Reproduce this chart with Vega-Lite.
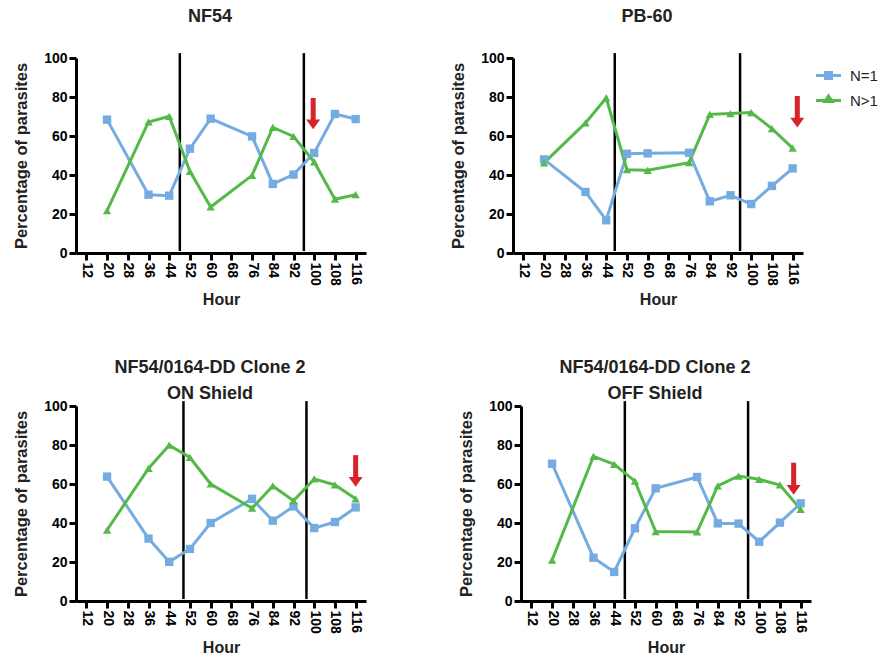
{
  "$schema": "https://vega.github.io/schema/vega-lite/v6.json",
  "padding": {"left": 13, "top": 8, "right": 5, "bottom": 5},
  "background": "white",
  "datasets": {
    "counts": [
      {"panel": "NF54", "hour": 20, "series": "N=1", "pct": 68.4},
      {"panel": "NF54", "hour": 36, "series": "N=1", "pct": 29.9},
      {"panel": "NF54", "hour": 44, "series": "N=1", "pct": 29.4},
      {"panel": "NF54", "hour": 52, "series": "N=1", "pct": 53.5},
      {"panel": "NF54", "hour": 60, "series": "N=1", "pct": 68.9},
      {"panel": "NF54", "hour": 76, "series": "N=1", "pct": 59.8},
      {"panel": "NF54", "hour": 84, "series": "N=1", "pct": 35.4},
      {"panel": "NF54", "hour": 92, "series": "N=1", "pct": 40.2},
      {"panel": "NF54", "hour": 100, "series": "N=1", "pct": 51.3},
      {"panel": "NF54", "hour": 108, "series": "N=1", "pct": 71.3},
      {"panel": "NF54", "hour": 116, "series": "N=1", "pct": 68.7},
      {"panel": "NF54", "hour": 20, "series": "N>1", "pct": 21.7},
      {"panel": "NF54", "hour": 36, "series": "N>1", "pct": 67.2},
      {"panel": "NF54", "hour": 44, "series": "N>1", "pct": 70.1},
      {"panel": "NF54", "hour": 52, "series": "N>1", "pct": 41.9},
      {"panel": "NF54", "hour": 60, "series": "N>1", "pct": 23.6},
      {"panel": "NF54", "hour": 76, "series": "N>1", "pct": 39.8},
      {"panel": "NF54", "hour": 84, "series": "N>1", "pct": 64.4},
      {"panel": "NF54", "hour": 92, "series": "N>1", "pct": 59.8},
      {"panel": "NF54", "hour": 100, "series": "N>1", "pct": 46.7},
      {"panel": "NF54", "hour": 108, "series": "N>1", "pct": 27.6},
      {"panel": "NF54", "hour": 116, "series": "N>1", "pct": 29.9},

      {"panel": "PB-60", "hour": 20, "series": "N=1", "pct": 48.0},
      {"panel": "PB-60", "hour": 36, "series": "N=1", "pct": 31.3},
      {"panel": "PB-60", "hour": 44, "series": "N=1", "pct": 16.8},
      {"panel": "PB-60", "hour": 52, "series": "N=1", "pct": 50.9},
      {"panel": "PB-60", "hour": 60, "series": "N=1", "pct": 51.1},
      {"panel": "PB-60", "hour": 76, "series": "N=1", "pct": 51.4},
      {"panel": "PB-60", "hour": 84, "series": "N=1", "pct": 26.5},
      {"panel": "PB-60", "hour": 92, "series": "N=1", "pct": 29.6},
      {"panel": "PB-60", "hour": 100, "series": "N=1", "pct": 25.1},
      {"panel": "PB-60", "hour": 108, "series": "N=1", "pct": 34.4},
      {"panel": "PB-60", "hour": 116, "series": "N=1", "pct": 43.4},
      {"panel": "PB-60", "hour": 20, "series": "N>1", "pct": 46.2},
      {"panel": "PB-60", "hour": 36, "series": "N>1", "pct": 66.7},
      {"panel": "PB-60", "hour": 44, "series": "N>1", "pct": 79.5},
      {"panel": "PB-60", "hour": 52, "series": "N>1", "pct": 42.7},
      {"panel": "PB-60", "hour": 60, "series": "N>1", "pct": 42.4},
      {"panel": "PB-60", "hour": 76, "series": "N>1", "pct": 46.3},
      {"panel": "PB-60", "hour": 84, "series": "N>1", "pct": 71.1},
      {"panel": "PB-60", "hour": 92, "series": "N>1", "pct": 71.5},
      {"panel": "PB-60", "hour": 100, "series": "N>1", "pct": 72.0},
      {"panel": "PB-60", "hour": 108, "series": "N>1", "pct": 63.8},
      {"panel": "PB-60", "hour": 116, "series": "N>1", "pct": 53.8},

      {"panel": "ON", "hour": 20, "series": "N=1", "pct": 63.8},
      {"panel": "ON", "hour": 36, "series": "N=1", "pct": 32.0},
      {"panel": "ON", "hour": 44, "series": "N=1", "pct": 20.1},
      {"panel": "ON", "hour": 52, "series": "N=1", "pct": 26.7},
      {"panel": "ON", "hour": 60, "series": "N=1", "pct": 40.0},
      {"panel": "ON", "hour": 76, "series": "N=1", "pct": 52.4},
      {"panel": "ON", "hour": 84, "series": "N=1", "pct": 41.2},
      {"panel": "ON", "hour": 92, "series": "N=1", "pct": 48.5},
      {"panel": "ON", "hour": 100, "series": "N=1", "pct": 37.4},
      {"panel": "ON", "hour": 108, "series": "N=1", "pct": 40.5},
      {"panel": "ON", "hour": 116, "series": "N=1", "pct": 48.0},
      {"panel": "ON", "hour": 20, "series": "N>1", "pct": 36.4},
      {"panel": "ON", "hour": 36, "series": "N>1", "pct": 68.0},
      {"panel": "ON", "hour": 44, "series": "N>1", "pct": 79.9},
      {"panel": "ON", "hour": 52, "series": "N>1", "pct": 73.6},
      {"panel": "ON", "hour": 60, "series": "N>1", "pct": 60.0},
      {"panel": "ON", "hour": 76, "series": "N>1", "pct": 47.6},
      {"panel": "ON", "hour": 84, "series": "N>1", "pct": 59.0},
      {"panel": "ON", "hour": 92, "series": "N>1", "pct": 51.4},
      {"panel": "ON", "hour": 100, "series": "N>1", "pct": 62.6},
      {"panel": "ON", "hour": 108, "series": "N>1", "pct": 59.5},
      {"panel": "ON", "hour": 116, "series": "N>1", "pct": 52.4},

      {"panel": "OFF", "hour": 20, "series": "N=1", "pct": 70.4},
      {"panel": "OFF", "hour": 36, "series": "N=1", "pct": 22.2},
      {"panel": "OFF", "hour": 44, "series": "N=1", "pct": 14.9},
      {"panel": "OFF", "hour": 52, "series": "N=1", "pct": 37.3},
      {"panel": "OFF", "hour": 60, "series": "N=1", "pct": 57.8},
      {"panel": "OFF", "hour": 76, "series": "N=1", "pct": 63.6},
      {"panel": "OFF", "hour": 84, "series": "N=1", "pct": 39.8},
      {"panel": "OFF", "hour": 92, "series": "N=1", "pct": 39.7},
      {"panel": "OFF", "hour": 100, "series": "N=1", "pct": 30.4},
      {"panel": "OFF", "hour": 108, "series": "N=1", "pct": 40.2},
      {"panel": "OFF", "hour": 116, "series": "N=1", "pct": 50.1},
      {"panel": "OFF", "hour": 20, "series": "N>1", "pct": 21.0},
      {"panel": "OFF", "hour": 36, "series": "N>1", "pct": 74.2},
      {"panel": "OFF", "hour": 44, "series": "N>1", "pct": 70.1},
      {"panel": "OFF", "hour": 52, "series": "N>1", "pct": 61.5},
      {"panel": "OFF", "hour": 60, "series": "N>1", "pct": 35.6},
      {"panel": "OFF", "hour": 76, "series": "N>1", "pct": 35.4},
      {"panel": "OFF", "hour": 84, "series": "N>1", "pct": 59.0},
      {"panel": "OFF", "hour": 92, "series": "N>1", "pct": 64.1},
      {"panel": "OFF", "hour": 100, "series": "N>1", "pct": 62.4},
      {"panel": "OFF", "hour": 108, "series": "N>1", "pct": 59.5},
      {"panel": "OFF", "hour": 116, "series": "N>1", "pct": 47.0}
    ],
    "dividers": [
      {"panel": "NF54", "hour": 48.1},
      {"panel": "NF54", "hour": 96.0},
      {"panel": "PB-60", "hour": 47.3},
      {"panel": "PB-60", "hour": 95.7},
      {"panel": "ON", "hour": 49.5},
      {"panel": "ON", "hour": 97.0},
      {"panel": "OFF", "hour": 48.1},
      {"panel": "OFF", "hour": 95.7}
    ],
    "arrows": [
      {"panel": "NF54", "hour": 99.6, "top": 79.5, "head": 66.0},
      {"panel": "PB-60", "hour": 117.8, "top": 80.5, "head": 66.9},
      {"panel": "ON", "hour": 116.0, "top": 74.8, "head": 61.1},
      {"panel": "OFF", "hour": 113.3, "top": 70.9, "head": 57.0}
    ]
  },
  "resolve": {"scale": {"color": "shared"}, "legend": {"color": "shared"}},
  "spacing": 51,
  "vconcat": [
    {
      "spacing": 84,
      "hconcat": [
        {
          "title": {"text": "NF54", "offset": 25},
          "width": 290,
          "height": 195,
          "layer": [
            {
              "data": {"name": "dividers"},
              "transform": [{"filter": "datum.panel === 'NF54'"}],
              "mark": {"type": "rule", "color": "black", "strokeWidth": 2.5},
              "encoding": {
                "x": {"field": "hour", "type": "quantitative", "title": "Hour", "scale": {"domain": [8, 120], "nice": false, "zero": false}, "axis": {"values": [12, 20, 28, 36, 44, 52, 60, 68, 76, 84, 92, 100, 108, 116]}},
                "y": {"datum": 1, "type": "quantitative", "title": "Percentage of parasites", "scale": {"domain": [0, 100]}, "axis": {"values": [0, 20, 40, 60, 80, 100]}},
                "y2": {"datum": 102.5}
              }
            },
            {
              "data": {"name": "counts"},
              "transform": [{"filter": "datum.panel === 'NF54'"}],
              "encoding": {
                "x": {"field": "hour", "type": "quantitative", "title": "Hour", "axis": {"values": [12, 20, 28, 36, 44, 52, 60, 68, 76, 84, 92, 100, 108, 116]}},
                "y": {"field": "pct", "type": "quantitative", "title": "Percentage of parasites", "axis": {"values": [0, 20, 40, 60, 80, 100]}},
                "color": {
                  "field": "series", "type": "nominal",
                  "scale": {"domain": ["N=1", "N>1"], "range": ["#74ace2", "#54b948"]},
                  "legend": {
                    "title": null, "orient": "none", "legendX": 741, "legendY": 6,
                    "symbolSize": 400, "symbolStrokeWidth": 3,
                    "labelFont": "Liberation Sans", "labelFontSize": 15, "labelFontWeight": "normal", "labelColor": "#222222",
                    "labelOffset": 10, "rowPadding": 4,
                    "encode": {"symbols": {"update": {
                      "shape": {"signal": "datum.value === 'N=1' ? 'M-1.25,0H1.25M-0.3,-0.3H0.3V0.3H-0.3Z' : 'M-1.25,0H1.25M0,-0.45L0.36,0.1H-0.36Z'"},
                      "fill": {"scale": "color", "field": "value"},
                      "stroke": {"scale": "color", "field": "value"},
                      "strokeWidth": {"value": 3},
                      "opacity": {"value": 1}
                    }}}
                  }
                }
              },
              "layer": [
                {"mark": {"type": "line", "strokeWidth": 3}},
                {
                  "mark": {"type": "point", "filled": true, "opacity": 1, "size": 70},
                  "encoding": {"shape": {"condition": {"test": "datum.series === 'N=1'", "value": "square"}, "value": "triangle-up"}}
                }
              ]
            },
            {
              "data": {"name": "arrows"},
              "transform": [{"filter": "datum.panel === 'NF54'"}],
              "encoding": {
                "x": {"field": "hour", "type": "quantitative", "title": "Hour", "axis": {"values": [12, 20, 28, 36, 44, 52, 60, 68, 76, 84, 92, 100, 108, 116]}}
              },
              "layer": [
                {
                  "mark": {"type": "rule", "color": "#d7242a", "strokeWidth": 5},
                  "encoding": {"y": {"field": "top", "type": "quantitative", "title": "Percentage of parasites", "axis": {"values": [0, 20, 40, 60, 80, 100]}}, "y2": {"field": "head"}}
                },
                {
                  "mark": {"type": "point", "shape": "M-1,-0.7L1,-0.7L0,0.7Z", "filled": true, "color": "#d7242a", "opacity": 1, "size": 196},
                  "encoding": {"y": {"field": "head", "type": "quantitative", "title": "Percentage of parasites", "axis": {"values": [0, 20, 40, 60, 80, 100]}}}
                }
              ]
            }
          ]
        },
        {
          "title": {"text": "PB-60", "offset": 25},
          "width": 290,
          "height": 195,
          "layer": [
            {
              "data": {"name": "dividers"},
              "transform": [{"filter": "datum.panel === 'PB-60'"}],
              "mark": {"type": "rule", "color": "black", "strokeWidth": 2.5},
              "encoding": {
                "x": {"field": "hour", "type": "quantitative", "title": "Hour", "scale": {"domain": [8, 120], "nice": false, "zero": false}, "axis": {"values": [12, 20, 28, 36, 44, 52, 60, 68, 76, 84, 92, 100, 108, 116]}},
                "y": {"datum": 1, "type": "quantitative", "title": "Percentage of parasites", "scale": {"domain": [0, 100]}, "axis": {"values": [0, 20, 40, 60, 80, 100]}},
                "y2": {"datum": 102.5}
              }
            },
            {
              "data": {"name": "counts"},
              "transform": [{"filter": "datum.panel === 'PB-60'"}],
              "encoding": {
                "x": {"field": "hour", "type": "quantitative", "title": "Hour", "axis": {"values": [12, 20, 28, 36, 44, 52, 60, 68, 76, 84, 92, 100, 108, 116]}},
                "y": {"field": "pct", "type": "quantitative", "title": "Percentage of parasites", "axis": {"values": [0, 20, 40, 60, 80, 100]}},
                "color": {
                  "field": "series", "type": "nominal",
                  "scale": {"domain": ["N=1", "N>1"], "range": ["#74ace2", "#54b948"]},
                  "legend": {
                    "title": null, "orient": "none", "legendX": 741, "legendY": 6,
                    "symbolSize": 400, "symbolStrokeWidth": 3,
                    "labelFont": "Liberation Sans", "labelFontSize": 15, "labelFontWeight": "normal", "labelColor": "#222222",
                    "labelOffset": 10, "rowPadding": 4,
                    "encode": {"symbols": {"update": {
                      "shape": {"signal": "datum.value === 'N=1' ? 'M-1.25,0H1.25M-0.3,-0.3H0.3V0.3H-0.3Z' : 'M-1.25,0H1.25M0,-0.45L0.36,0.1H-0.36Z'"},
                      "fill": {"scale": "color", "field": "value"},
                      "stroke": {"scale": "color", "field": "value"},
                      "strokeWidth": {"value": 3},
                      "opacity": {"value": 1}
                    }}}
                  }
                }
              },
              "layer": [
                {"mark": {"type": "line", "strokeWidth": 3}},
                {
                  "mark": {"type": "point", "filled": true, "opacity": 1, "size": 70},
                  "encoding": {"shape": {"condition": {"test": "datum.series === 'N=1'", "value": "square"}, "value": "triangle-up"}}
                }
              ]
            },
            {
              "data": {"name": "arrows"},
              "transform": [{"filter": "datum.panel === 'PB-60'"}],
              "encoding": {
                "x": {"field": "hour", "type": "quantitative", "title": "Hour", "axis": {"values": [12, 20, 28, 36, 44, 52, 60, 68, 76, 84, 92, 100, 108, 116]}}
              },
              "layer": [
                {
                  "mark": {"type": "rule", "color": "#d7242a", "strokeWidth": 5},
                  "encoding": {"y": {"field": "top", "type": "quantitative", "title": "Percentage of parasites", "axis": {"values": [0, 20, 40, 60, 80, 100]}}, "y2": {"field": "head"}}
                },
                {
                  "mark": {"type": "point", "shape": "M-1,-0.7L1,-0.7L0,0.7Z", "filled": true, "color": "#d7242a", "opacity": 1, "size": 196},
                  "encoding": {"y": {"field": "head", "type": "quantitative", "title": "Percentage of parasites", "axis": {"values": [0, 20, 40, 60, 80, 100]}}}
                }
              ]
            }
          ]
        }
      ]
    },
    {
      "spacing": 92,
      "hconcat": [
        {
          "title": {"text": ["NF54/0164-DD Clone 2", "ON Shield"], "offset": -4},
          "width": 290,
          "height": 195,
          "layer": [
            {
              "data": {"name": "dividers"},
              "transform": [{"filter": "datum.panel === 'ON'"}],
              "mark": {"type": "rule", "color": "black", "strokeWidth": 2.5},
              "encoding": {
                "x": {"field": "hour", "type": "quantitative", "title": "Hour", "scale": {"domain": [8, 120], "nice": false, "zero": false}, "axis": {"values": [12, 20, 28, 36, 44, 52, 60, 68, 76, 84, 92, 100, 108, 116]}},
                "y": {"datum": 1, "type": "quantitative", "title": "Percentage of parasites", "scale": {"domain": [0, 100]}, "axis": {"values": [0, 20, 40, 60, 80, 100]}},
                "y2": {"datum": 102.5}
              }
            },
            {
              "data": {"name": "counts"},
              "transform": [{"filter": "datum.panel === 'ON'"}],
              "encoding": {
                "x": {"field": "hour", "type": "quantitative", "title": "Hour", "axis": {"values": [12, 20, 28, 36, 44, 52, 60, 68, 76, 84, 92, 100, 108, 116]}},
                "y": {"field": "pct", "type": "quantitative", "title": "Percentage of parasites", "axis": {"values": [0, 20, 40, 60, 80, 100]}},
                "color": {
                  "field": "series", "type": "nominal",
                  "scale": {"domain": ["N=1", "N>1"], "range": ["#74ace2", "#54b948"]},
                  "legend": {
                    "title": null, "orient": "none", "legendX": 741, "legendY": 6,
                    "symbolSize": 400, "symbolStrokeWidth": 3,
                    "labelFont": "Liberation Sans", "labelFontSize": 15, "labelFontWeight": "normal", "labelColor": "#222222",
                    "labelOffset": 10, "rowPadding": 4,
                    "encode": {"symbols": {"update": {
                      "shape": {"signal": "datum.value === 'N=1' ? 'M-1.25,0H1.25M-0.3,-0.3H0.3V0.3H-0.3Z' : 'M-1.25,0H1.25M0,-0.45L0.36,0.1H-0.36Z'"},
                      "fill": {"scale": "color", "field": "value"},
                      "stroke": {"scale": "color", "field": "value"},
                      "strokeWidth": {"value": 3},
                      "opacity": {"value": 1}
                    }}}
                  }
                }
              },
              "layer": [
                {"mark": {"type": "line", "strokeWidth": 3}},
                {
                  "mark": {"type": "point", "filled": true, "opacity": 1, "size": 70},
                  "encoding": {"shape": {"condition": {"test": "datum.series === 'N=1'", "value": "square"}, "value": "triangle-up"}}
                }
              ]
            },
            {
              "data": {"name": "arrows"},
              "transform": [{"filter": "datum.panel === 'ON'"}],
              "encoding": {
                "x": {"field": "hour", "type": "quantitative", "title": "Hour", "axis": {"values": [12, 20, 28, 36, 44, 52, 60, 68, 76, 84, 92, 100, 108, 116]}}
              },
              "layer": [
                {
                  "mark": {"type": "rule", "color": "#d7242a", "strokeWidth": 5},
                  "encoding": {"y": {"field": "top", "type": "quantitative", "title": "Percentage of parasites", "axis": {"values": [0, 20, 40, 60, 80, 100]}}, "y2": {"field": "head"}}
                },
                {
                  "mark": {"type": "point", "shape": "M-1,-0.7L1,-0.7L0,0.7Z", "filled": true, "color": "#d7242a", "opacity": 1, "size": 196},
                  "encoding": {"y": {"field": "head", "type": "quantitative", "title": "Percentage of parasites", "axis": {"values": [0, 20, 40, 60, 80, 100]}}}
                }
              ]
            }
          ]
        },
        {
          "title": {"text": ["NF54/0164-DD Clone 2", "OFF Shield"], "offset": -4},
          "width": 290,
          "height": 195,
          "layer": [
            {
              "data": {"name": "dividers"},
              "transform": [{"filter": "datum.panel === 'OFF'"}],
              "mark": {"type": "rule", "color": "black", "strokeWidth": 2.5},
              "encoding": {
                "x": {"field": "hour", "type": "quantitative", "title": "Hour", "scale": {"domain": [8, 120], "nice": false, "zero": false}, "axis": {"values": [12, 20, 28, 36, 44, 52, 60, 68, 76, 84, 92, 100, 108, 116]}},
                "y": {"datum": 1, "type": "quantitative", "title": "Percentage of parasites", "scale": {"domain": [0, 100]}, "axis": {"values": [0, 20, 40, 60, 80, 100]}},
                "y2": {"datum": 102.5}
              }
            },
            {
              "data": {"name": "counts"},
              "transform": [{"filter": "datum.panel === 'OFF'"}],
              "encoding": {
                "x": {"field": "hour", "type": "quantitative", "title": "Hour", "axis": {"values": [12, 20, 28, 36, 44, 52, 60, 68, 76, 84, 92, 100, 108, 116]}},
                "y": {"field": "pct", "type": "quantitative", "title": "Percentage of parasites", "axis": {"values": [0, 20, 40, 60, 80, 100]}},
                "color": {
                  "field": "series", "type": "nominal",
                  "scale": {"domain": ["N=1", "N>1"], "range": ["#74ace2", "#54b948"]},
                  "legend": {
                    "title": null, "orient": "none", "legendX": 741, "legendY": 6,
                    "symbolSize": 400, "symbolStrokeWidth": 3,
                    "labelFont": "Liberation Sans", "labelFontSize": 15, "labelFontWeight": "normal", "labelColor": "#222222",
                    "labelOffset": 10, "rowPadding": 4,
                    "encode": {"symbols": {"update": {
                      "shape": {"signal": "datum.value === 'N=1' ? 'M-1.25,0H1.25M-0.3,-0.3H0.3V0.3H-0.3Z' : 'M-1.25,0H1.25M0,-0.45L0.36,0.1H-0.36Z'"},
                      "fill": {"scale": "color", "field": "value"},
                      "stroke": {"scale": "color", "field": "value"},
                      "strokeWidth": {"value": 3},
                      "opacity": {"value": 1}
                    }}}
                  }
                }
              },
              "layer": [
                {"mark": {"type": "line", "strokeWidth": 3}},
                {
                  "mark": {"type": "point", "filled": true, "opacity": 1, "size": 70},
                  "encoding": {"shape": {"condition": {"test": "datum.series === 'N=1'", "value": "square"}, "value": "triangle-up"}}
                }
              ]
            },
            {
              "data": {"name": "arrows"},
              "transform": [{"filter": "datum.panel === 'OFF'"}],
              "encoding": {
                "x": {"field": "hour", "type": "quantitative", "title": "Hour", "axis": {"values": [12, 20, 28, 36, 44, 52, 60, 68, 76, 84, 92, 100, 108, 116]}}
              },
              "layer": [
                {
                  "mark": {"type": "rule", "color": "#d7242a", "strokeWidth": 5},
                  "encoding": {"y": {"field": "top", "type": "quantitative", "title": "Percentage of parasites", "axis": {"values": [0, 20, 40, 60, 80, 100]}}, "y2": {"field": "head"}}
                },
                {
                  "mark": {"type": "point", "shape": "M-1,-0.7L1,-0.7L0,0.7Z", "filled": true, "color": "#d7242a", "opacity": 1, "size": 196},
                  "encoding": {"y": {"field": "head", "type": "quantitative", "title": "Percentage of parasites", "axis": {"values": [0, 20, 40, 60, 80, 100]}}}
                }
              ]
            }
          ]
        }
      ]
    }
  ],
  "config": {
    "view": {"stroke": null},
    "font": "Liberation Sans",
    "title": {"font": "Liberation Sans", "fontSize": 18, "fontWeight": "bold", "color": "#222222", "anchor": "middle", "frame": "group", "dx": -11, "lineHeight": 26},
    "axis": {
      "grid": false,
      "domainColor": "black",
      "domainWidth": 3,
      "tickColor": "black",
      "tickWidth": 3,
      "tickSize": 7,
      "labelOverlap": false,
      "labelFont": "Liberation Sans",
      "labelFontSize": 14,
      "labelFontWeight": "bold",
      "labelColor": "black",
      "labelPadding": 2,
      "titleFont": "Liberation Sans",
      "titleFontWeight": "bold",
      "titleColor": "#222222"
    },
    "axisX": {"labelAngle": 90, "titleFontSize": 16, "titlePadding": 6},
    "axisY": {"titleFontSize": 16.5, "titlePadding": 14}
  }
}
